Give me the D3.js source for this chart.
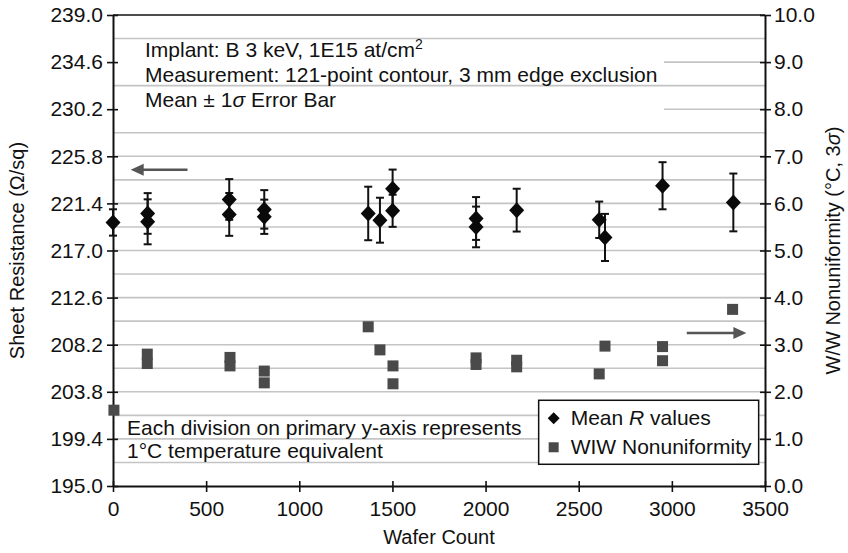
<!DOCTYPE html>
<html>
<head>
<meta charset="utf-8">
<script src="https://cdn.jsdelivr.net/npm/d3@7"></script>
<style>
  body { margin: 0; background: #fff; }
  text { font-family: "Liberation Sans", Arial, sans-serif; fill: #111; }
</style>
</head>
<body>
<svg id="chart" width="848" height="553"></svg>
<script>
// mean sheet resistance, with 1 sigma error
const waferR = [0, 186, 186, 624, 624, 812, 812, 1370, 1433, 1501, 1501, 1949, 1949, 2167, 2610, 2641, 2950, 3330]
const meanR = [219.62, 220.46, 219.68, 221.77, 220.37, 220.84, 220.15, 220.46, 219.83, 222.76, 220.71, 219.99, 219.2, 220.77, 219.87, 218.22, 223.05, 221.49]
const errR = [1.23, 1.9, 2.1, 1.9, 2.0, 1.8, 1.6, 2.5, 2.1, 1.8, 1.5, 2.0, 1.9, 2.0, 1.7, 2.2, 2.2, 2.7]

// within-wafer nonuniformity
const waferW = [5, 184, 184, 628, 628, 812, 812, 1370, 1433, 1503, 1503, 1949, 1949, 2167, 2167, 2610, 2641, 2950, 2950, 3326]
const wiw = [1.61, 2.80, 2.60, 2.73, 2.55, 2.44, 2.19, 3.38, 2.89, 2.55, 2.17, 2.72, 2.58, 2.67, 2.53, 2.38, 2.97, 2.96, 2.66, 3.75]

const leftTicks = [195.0, 199.4, 203.8, 208.2, 212.6, 217.0, 221.4, 225.8, 230.2, 234.6, 239.0]
const rightTicks = [0, 1, 2, 3, 4, 5, 6, 7, 8, 9, 10]
const xTicks = [0, 500, 1000, 1500, 2000, 2500, 3000, 3500]

const notesTop = ['Implant: B 3 keV, 1E15 at/cm', 'Measurement: 121-point contour, 3 mm edge exclusion', 'Mean \u00b1 1']
const notesBottom = ['Each division on primary y-axis represents', '1\u00b0C temperature equivalent']

const margin = {top: 15, right: 83, bottom: 67, left: 113}
const width = 848 - margin.left - margin.right
const height = 553 - margin.top - margin.bottom

const svg = d3.select('#chart')
const g = svg.append('g')
    .attr('transform', 'translate(' + margin.left + ',' + margin.top + ')')

const x = d3.scaleLinear().domain([0, 3500]).range([0, width])
const yL = d3.scaleLinear().domain([195, 239]).range([height, 0])
const yR = d3.scaleLinear().domain([0, 10]).range([height, 0])

const gridColor = '#c4c4c4'

// major gridlines (hidden behind the top note box)
g.append('g').selectAll('line')
    .data(rightTicks.slice(1, -1))
    .join('line')
        .attr('x1', 0).attr('x2', width)
        .attr('y1', d => yR(d)).attr('y2', d => yR(d))
        .attr('stroke', gridColor).attr('stroke-width', 1.6)

// white box behind top note
g.append('rect')
    .attr('x', 1).attr('y', yR(9.5) + 4)
    .attr('width', 550).attr('height', yR(7.5) - yR(9.5) - 8)
    .attr('fill', '#fff')

// half-step gridlines
g.append('g').selectAll('line')
    .data(d3.range(0, 10).map(i => i + 0.5))
    .join('line')
        .attr('x1', 0).attr('x2', width)
        .attr('y1', d => yR(d)).attr('y2', d => yR(d))
        .attr('stroke', gridColor).attr('stroke-width', 1.6)

// top border
g.append('line')
    .attr('x1', 0).attr('x2', width).attr('y1', 0).attr('y2', 0)
    .attr('stroke', '#111').attr('stroke-width', 1.5)

// axes
const fontSize = '21px'

const xAxis = g.append('g')
    .attr('transform', 'translate(0,' + height + ')')
    .call(d3.axisBottom(x).tickValues(xTicks).tickFormat(d3.format('d')).tickSize(6).tickSizeOuter(0).tickPadding(9))
xAxis.selectAll('.tick line').attr('y1', -5)

const leftAxis = g.append('g')
    .call(d3.axisLeft(yL).tickValues(leftTicks).tickFormat(d3.format('.1f')).tickSize(6).tickSizeOuter(0).tickPadding(4))
leftAxis.selectAll('.tick line').attr('x1', 5)

const rightAxis = g.append('g')
    .attr('transform', 'translate(' + width + ',0)')
    .call(d3.axisRight(yR).tickValues(rightTicks).tickFormat(d3.format('.1f')).tickSize(6).tickSizeOuter(0).tickPadding(3))
rightAxis.selectAll('.tick line').attr('x1', -5)

g.selectAll('.domain').attr('stroke', '#111').attr('stroke-width', 2)
g.selectAll('.tick line').attr('stroke', '#111').attr('stroke-width', 1.6)
g.selectAll('.tick text').attr('font-size', fontSize).attr('fill', '#111')
    .attr('font-family', '"Liberation Sans", Arial, sans-serif')

// axis titles
svg.append('text')
    .attr('transform', 'translate(24,' + (margin.top + height / 2) + ') rotate(-90)')
    .attr('text-anchor', 'middle')
    .attr('font-size', '20px')
    .text('Sheet Resistance (\u03a9/sq)')

const rt = svg.append('text')
    .attr('transform', 'translate(840,' + (margin.top + height / 2) + ') rotate(-90)')
    .attr('text-anchor', 'middle')
    .attr('font-size', '20px')
rt.append('tspan').text('W/W Nonuniformity (\u00b0C, 3')
rt.append('tspan').attr('font-style', 'italic').text('\u03c3')
rt.append('tspan').text(')')

svg.append('text')
    .attr('x', margin.left + width / 2)
    .attr('y', 544)
    .attr('text-anchor', 'middle')
    .attr('font-size', '20px')
    .text('Wafer Count')

// error bars
const bars = g.append('g')
    .attr('stroke', '#111').attr('stroke-width', 2)
waferR.forEach((w, i) => {
    const cx = x(w)
    const top = yL(meanR[i] + errR[i])
    const bot = yL(meanR[i] - errR[i])
    bars.append('line').attr('x1', cx).attr('x2', cx).attr('y1', top).attr('y2', bot)
    bars.append('line').attr('x1', cx - 4).attr('x2', cx + 4).attr('y1', top).attr('y2', top)
    bars.append('line').attr('x1', cx - 4).attr('x2', cx + 4).attr('y1', bot).attr('y2', bot)
})

// markers
const diamond = 'M0,-8L7.5,0L0,8L-7.5,0Z'

g.append('g').selectAll('path')
    .data(waferR)
    .join('path')
        .attr('d', diamond)
        .attr('transform', (d, i) => 'translate(' + x(d) + ',' + yL(meanR[i]) + ')')
        .attr('fill', '#0a0a0a')

g.append('g').selectAll('rect')
    .data(waferW)
    .join('rect')
        .attr('x', d => x(d) - 5.5)
        .attr('y', (d, i) => yR(wiw[i]) - 5.5)
        .attr('width', 11).attr('height', 11)
        .attr('fill', '#4a4a4a')

// arrows pointing to each axis
function arrow(x1, x2, yv) {
    const dir = x2 > x1 ? 1 : -1
    g.append('line')
        .attr('x1', x1).attr('x2', x2 - dir * 10)
        .attr('y1', yv).attr('y2', yv)
        .attr('stroke', '#555').attr('stroke-width', 2.5)
    g.append('path')
        .attr('d', 'M' + x2 + ',' + yv + 'L' + (x2 - dir * 13) + ',' + (yv - 6) + 'L' + (x2 - dir * 13) + ',' + (yv + 6) + 'Z')
        .attr('fill', '#555')
}
arrow(x(400), x(95), yL(223.6) - 10)
arrow(x(3080), x(3400), yR(3.25))

// notes
const nt = g.append('g').attr('font-size', fontSize)
notesTop.forEach((s, i) => {
    const t = nt.append('text').attr('x', 32).attr('y', 42 + i * 25)
    t.append('tspan').text(s)
    if (i === 0) t.append('tspan').attr('font-size', '14px').attr('dy', -8).text('2')
    if (i === 2) {
        t.append('tspan').attr('font-style', 'italic').text('\u03c3')
        t.append('tspan').text(' Error Bar')
    }
})
notesBottom.forEach((s, i) => {
    nt.append('text').attr('x', 14).attr('y', 420 + i * 23).text(s)
})

// legend
const lg = g.append('g').attr('transform', 'translate(' + (x(2285)) + ',' + yR(1.82) + ')')
lg.append('rect')
    .attr('width', 220).attr('height', 64)
    .attr('fill', '#fff').attr('stroke', '#111').attr('stroke-width', 1.5)
lg.append('path').attr('d', 'M0,-6L6,0L0,6L-6,0Z').attr('transform', 'translate(15,18)').attr('fill', '#0a0a0a')
lg.append('rect').attr('x', 10).attr('y', 42).attr('width', 10).attr('height', 10).attr('fill', '#4a4a4a')
const l1 = lg.append('text').attr('x', 32).attr('y', 25).attr('font-size', fontSize)
l1.append('tspan').text('Mean ')
l1.append('tspan').attr('font-style', 'italic').text('R')
l1.append('tspan').text(' values')
lg.append('text').attr('x', 32).attr('y', 54).attr('font-size', fontSize).text('WIW Nonuniformity')
</script>
</body>
</html>
